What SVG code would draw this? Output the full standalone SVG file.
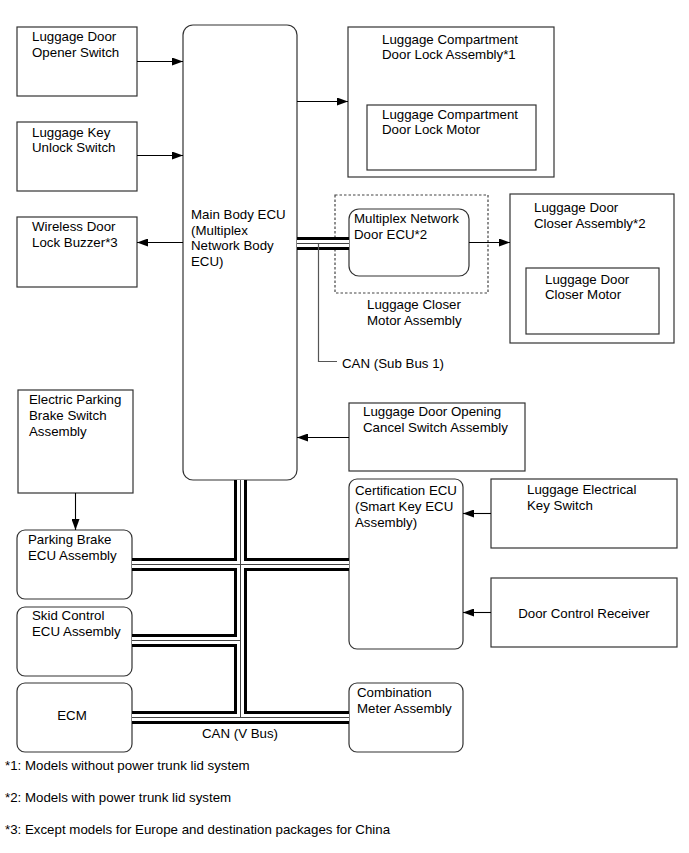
<svg xmlns="http://www.w3.org/2000/svg" width="689" height="853" viewBox="0 0 689 853">
<defs>
<marker id="ah" markerWidth="11" markerHeight="8" refX="11" refY="4" orient="auto" markerUnits="userSpaceOnUse"><path d="M0,0 L11,4 L0,8 z" fill="#000"/></marker>
<style>
.box{fill:#fff;stroke:#333;stroke-width:1.2}
.dash{fill:none;stroke:#444;stroke-width:1.2;stroke-dasharray:2.5,2}
.t{font-family:"Liberation Sans",Arial,sans-serif;font-size:13.3px;fill:#000}
.m{text-anchor:middle}
.arrow{stroke:#000;stroke-width:1.1;fill:none;marker-end:url(#ah)}
.busO{stroke:#000;stroke-width:13;fill:none}
.busW{stroke:#fff;stroke-width:7;fill:none}
.busC{stroke:#444;stroke-width:1;fill:none}
.thin{stroke:#555;stroke-width:1.2;fill:none}
</style>
</defs>
<rect width="689" height="853" fill="#fff"/>

<g id="opener-switch"><rect class="box" x="17" y="27" width="120" height="69"/><text class="t" x="32" y="41">Luggage Door</text><text class="t" x="32" y="56.5">Opener Switch</text></g>
<g id="key-unlock-switch"><rect class="box" x="17" y="122" width="120" height="69"/><text class="t" x="32" y="136.5">Luggage Key</text><text class="t" x="32" y="152">Unlock Switch</text></g>
<g id="buzzer"><rect class="box" x="17" y="217" width="120" height="70"/><text class="t" x="32" y="231">Wireless Door</text><text class="t" x="32" y="246.5">Lock Buzzer*3</text></g>
<g id="main-body-ecu"><rect class="box" x="183" y="25" width="114" height="455" rx="10"/><text class="t" x="191" y="219">Main Body ECU</text><text class="t" x="191" y="234.5">(Multiplex</text><text class="t" x="191" y="250">Network Body</text><text class="t" x="191" y="265.5">ECU)</text></g>
<g id="door-lock-assembly"><rect class="box" x="348" y="27" width="206" height="150"/><text class="t" x="382" y="43.5">Luggage Compartment</text><text class="t" x="382" y="59">Door Lock Assembly*1</text>
<rect class="box" x="367" y="105" width="169" height="65"/><text class="t" x="382" y="118.5">Luggage Compartment</text><text class="t" x="382" y="134">Door Lock Motor</text></g>
<g id="closer-motor-assembly"><rect class="dash" x="335" y="195" width="153" height="98"/><text class="t" x="367" y="309">Luggage Closer</text><text class="t" x="367" y="325">Motor Assembly</text></g>
<g id="door-ecu"><rect class="box" x="349" y="209" width="120" height="67" rx="10"/><text class="t" x="354" y="222.5">Multiplex Network</text><text class="t" x="354" y="238.5">Door ECU*2</text></g>
<g id="door-closer-assembly"><rect class="box" x="510" y="194" width="164" height="149"/><text class="t" x="534" y="212">Luggage Door</text><text class="t" x="534" y="228">Closer Assembly*2</text>
<rect class="box" x="526" y="268" width="133" height="66"/><text class="t" x="545" y="283.5">Luggage Door</text><text class="t" x="545" y="299">Closer Motor</text></g>
<g id="can-sub-bus-label"><text class="t" x="342" y="367.5">CAN (Sub Bus 1)</text></g>
<g id="cancel-switch"><rect class="box" x="349" y="403" width="176" height="68"/><text class="t" x="363" y="416">Luggage Door Opening</text><text class="t" x="363" y="432">Cancel Switch Assembly</text></g>
<g id="epb-switch"><rect class="box" x="18" y="390" width="115" height="103"/><text class="t" x="29" y="404">Electric Parking</text><text class="t" x="29" y="420">Brake Switch</text><text class="t" x="29" y="436">Assembly</text></g>
<g id="parking-brake-ecu"><rect class="box" x="17" y="530" width="115" height="69" rx="8"/><text class="t" x="28" y="544">Parking Brake</text><text class="t" x="28" y="560">ECU Assembly</text></g>
<g id="skid-control-ecu"><rect class="box" x="17" y="607" width="115" height="69" rx="8"/><text class="t" x="32" y="620">Skid Control</text><text class="t" x="32" y="636">ECU Assembly</text></g>
<g id="ecm"><rect class="box" x="17" y="683" width="115" height="69" rx="8"/><text class="t m" x="72" y="720">ECM</text></g>
<g id="certification-ecu"><rect class="box" x="349" y="479" width="114" height="170" rx="8"/><text class="t" x="355" y="495">Certification ECU</text><text class="t" x="355" y="511">(Smart Key ECU</text><text class="t" x="355" y="527">Assembly)</text></g>
<g id="combination-meter"><rect class="box" x="349" y="683" width="114" height="69" rx="8"/><text class="t" x="357" y="696.5">Combination</text><text class="t" x="357" y="712.5">Meter Assembly</text></g>
<g id="electrical-key-switch"><rect class="box" x="491" y="479" width="186" height="69"/><text class="t" x="527" y="494">Luggage Electrical</text><text class="t" x="527" y="510">Key Switch</text></g>
<g id="door-control-receiver"><rect class="box" x="491" y="578" width="186" height="69"/><text class="t m" x="584" y="617.5">Door Control Receiver</text></g>
<g id="can-v-bus-label"><text class="t m" x="240" y="737.5">CAN (V Bus)</text></g>

<g id="connectors">
<path class="arrow" d="M137,61.5 H183"/>
<path class="arrow" d="M137,155.5 H183"/>
<path class="arrow" d="M183,242.5 H137"/>
<path class="arrow" d="M297,101.5 H348"/>
<path class="arrow" d="M469,242.5 H510"/>
<path class="arrow" d="M349,437.5 H297"/>
<path class="arrow" d="M75.5,493 V530"/>
<path class="arrow" d="M491,513.5 H463"/>
<path class="arrow" d="M491,612.5 H463"/>
<g id="buses">
<path class="busO" d="M297,243.5 H349 M240.5,480 V717.5 M132,564.5 H349 M132,640.5 H240.5 M132,717.5 H349"/>
<path class="busW" d="M297,243.5 H349 M240.5,480 V717.5 M132,564.5 H349 M132,640.5 H240.5 M132,717.5 H349"/>
<path class="busC" d="M297,243.5 H349 M240.5,480 V717.5 M132,564.5 H349 M132,640.5 H240.5 M132,717.5 H349"/>
</g>
<path class="thin" d="M318.5,244 V361.5 H337"/>
</g>

<g id="footnotes">
<text class="t" x="5" y="770">*1: Models without power trunk lid system</text>
<text class="t" x="5" y="802">*2: Models with power trunk lid system</text>
<text class="t" x="5" y="834">*3: Except models for Europe and destination packages for China</text>
</g>
</svg>
